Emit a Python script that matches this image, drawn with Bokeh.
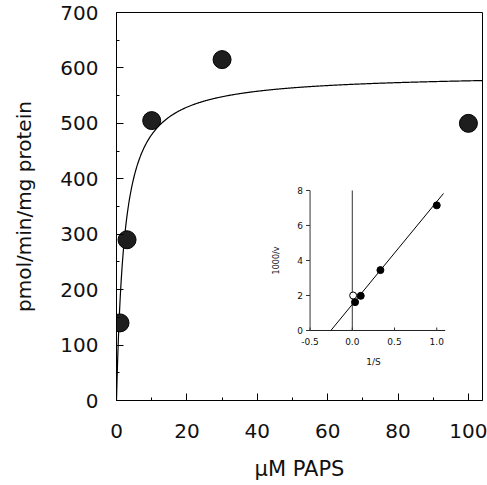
import numpy as np
from bokeh.plotting import figure
from bokeh.models import Range1d, FixedTicker
from bokeh.core.properties import value
from bokeh.embed import file_html
from bokeh.resources import INLINE

# ---------------- data ----------------
paps_uM = [1, 3, 10, 30, 100]
activity = [140, 290, 505, 615, 500]
VMAX = 590.0          # fitted Michaelis-Menten parameters
KM = 2.3
x_ticks = [0, 20, 40, 60, 80, 100]
x_minor = [10, 30, 50, 70, 90]
y_ticks = [0, 100, 200, 300, 400, 500, 600, 700]
y_minor = [50, 150, 250, 350, 450, 550, 650]

# inset (Lineweaver-Burk)
inv_s = [1.0, 0.333, 0.1, 0.033]
inv_v = [7.15, 3.45, 1.98, 1.62]
inv_s_open = [0.01]
inv_v_open = [2.0]
LB_INTERCEPT = 1.49
LB_SLOPE = 5.87
inset_x_ticks = [-0.5, 0.0, 0.5, 1.0]
inset_x_labels = ["-0.5", "0.0", "0.5", "1.0"]
inset_y_ticks = [0, 2, 4, 6, 8]
inset_y_labels = ["0", "2", "4", "6", "8"]

FONT = "DejaVu Sans"

# ---------------- main figure ----------------
X_END = 104
W, H = 487, 485
BL, BR, BT, BB = 116, 5, 12, 85
FW, FH = W - BL - BR, H - BT - BB
p = figure(width=W, height=H, x_range=Range1d(0, X_END), y_range=Range1d(0, 700),
           output_backend="svg", toolbar_location=None,
           min_border_left=BL, min_border_right=BR, min_border_top=BT, min_border_bottom=BB)
p.grid.visible = False
p.outline_line_color = "black"
p.outline_line_width = 1
p.background_fill_color = "white"
p.border_fill_color = "white"

for ax in (p.xaxis[0], p.yaxis[0]):
    ax.major_tick_in = 7
    ax.major_tick_out = 0
    ax.minor_tick_in = 3
    ax.minor_tick_out = 0
    ax.axis_line_color = "black"
    ax.major_label_text_font = FONT
    ax.major_label_text_font_size = "20px"
    ax.major_label_text_color = "#111111"
    ax.axis_label_text_font = FONT
    ax.axis_label_text_font_style = "normal"
    ax.axis_label_text_color = "#111111"

p.xaxis.ticker = FixedTicker(ticks=x_ticks, minor_ticks=x_minor)
p.yaxis.ticker = FixedTicker(ticks=y_ticks, minor_ticks=y_minor)
p.xaxis.major_label_standoff = 23
p.yaxis.major_label_standoff = 18
p.xaxis.axis_label = "µM PAPS"
p.yaxis.axis_label = "pmol/min/mg protein"
p.xaxis.axis_label_text_font_size = "21px"
p.yaxis.axis_label_text_font_size = "20px"
p.xaxis.axis_label_standoff = 16
p.yaxis.axis_label_standoff = 21

# fitted curve
s = np.linspace(0, X_END, 600)
v = VMAX * s / (KM + s)
p.line(s, v, line_color="black", line_width=1.2)

p.scatter(paps_uM, activity, size=18, fill_color="#1e1e1e", line_color="black", line_width=1)

# ---------------- inset via extra ranges ----------------
# inset placement in main-data units: inset x -0.5..1.0 -> main 55..91 ; inset y 0..8 -> main 126.3..378.9
IX_A, IX_B, MX_A, MX_B = -0.5, 1.0, 55.0, 91.0
IY_A, IY_B, MY_A, MY_B = 0.0, 8.0, 126.3, 378.9
kx = (IX_B - IX_A) / (MX_B - MX_A)
ky = (IY_B - IY_A) / (MY_B - MY_A)
p.extra_x_ranges = {"ix": Range1d(IX_A - MX_A * kx, IX_A + (X_END - MX_A) * kx)}
p.extra_y_ranges = {"iy": Range1d(IY_A - MY_A * ky, IY_A + (700 - MY_A) * ky)}
R = dict(x_range_name="ix", y_range_name="iy")

px_x = kx * X_END / FW   # inset units per pixel (x)
px_y = ky * 700 / FH     # inset units per pixel (y)
IX_END = 1.1

# axes lines
p.segment(x0=[IX_A], y0=[0], x1=[IX_A], y1=[8], line_color="#555555", line_width=1.2, **R)
p.segment(x0=[IX_A], y0=[0], x1=[IX_END], y1=[0], line_color="#222222", line_width=1, **R)
# zero line
p.segment(x0=[0], y0=[0], x1=[0], y1=[8], line_color="#333333", line_width=1, **R)
# ticks
p.segment(x0=[IX_A] * len(inset_y_ticks), y0=inset_y_ticks,
          x1=[IX_A - 4 * px_x] * len(inset_y_ticks), y1=inset_y_ticks,
          line_color="#333333", line_width=1, **R)
p.segment(x0=inset_x_ticks, y0=[0] * len(inset_x_ticks),
          x1=inset_x_ticks, y1=[3 * px_y] * len(inset_x_ticks),
          line_color="#333333", line_width=1, **R)
# tick labels
p.text(x=[IX_A] * len(inset_y_ticks), y=inset_y_ticks, text=inset_y_labels,
       x_offset=-7, text_align="right", text_baseline="middle",
       text_font=value(FONT), text_font_size="9px", text_color="#111111", **R)
p.text(x=inset_x_ticks, y=[0] * len(inset_x_ticks), text=inset_x_labels,
       y_offset=8, text_align="center", text_baseline="top",
       text_font=value(FONT), text_font_size="9px", text_color="#111111", **R)
p.text(x=[IX_A], y=[4], text=["1000/v"], x_offset=-34, angle=np.pi / 2,
       text_align="center", text_baseline="middle",
       text_font=value(FONT), text_font_size="8px", text_color="#111111", **R)
p.text(x=[0.25], y=[0], text=["1/S"], y_offset=32,
       text_align="center", text_baseline="middle",
       text_font=value(FONT), text_font_size="9px", text_color="#111111", **R)

# regression line
lx0 = -LB_INTERCEPT / LB_SLOPE
lx1 = 1.08
p.line([lx0, lx1], [0, LB_INTERCEPT + LB_SLOPE * lx1], line_color="black", line_width=1, **R)
p.scatter(inv_s, inv_v, size=7, fill_color="black", line_color="black", **R)
p.scatter(inv_s_open, inv_v_open, size=7, fill_color="white", line_color="black", line_width=1, **R)

open("out.html", "w").write(file_html(p, INLINE))
